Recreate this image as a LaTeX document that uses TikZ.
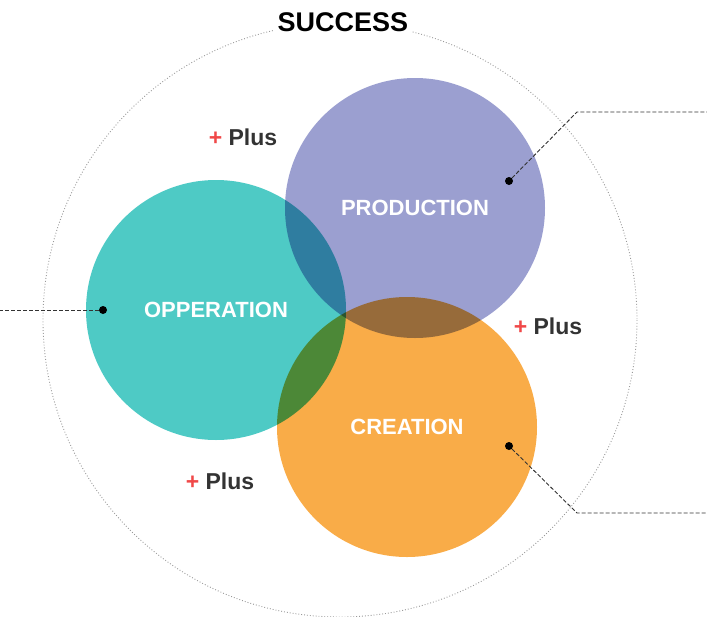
\documentclass[tikz,border=0pt]{standalone}
\usepackage{fontspec}
\setmainfont{Liberation Sans}
\usetikzlibrary{positioning}

\definecolor{opercol}{HTML}{4ECAC5}
\definecolor{prodcol}{HTML}{9B9FD0}
\definecolor{creacol}{HTML}{F9AC48}
\definecolor{plusred}{HTML}{F04848}
\definecolor{plusgray}{HTML}{333333}

\tikzset{
  bubble/.style={circle,minimum size=260pt,inner sep=0pt},
  bubbletext/.style={text=white,font=\fontsize{22}{22}\selectfont\bfseries},
  plustext/.style={text=plusgray,font=\fontsize{23}{23}\selectfont\bfseries},
  pin/.style={circle,fill=black,minimum size=8pt,inner sep=0pt},
  leader/.style={draw=black!80,dash pattern=on 4pt off 2pt,line width=0.9pt}
}

\begin{document}
\begin{tikzpicture}[x=1pt,y=-1pt]
	\useasboundingbox (0,0) rectangle (707,616);

	% outer ring
	\draw[black!40,dotted,line width=0.9pt] (340,320) circle (297);
	\node[fill=white,font=\fontsize{27}{27}\selectfont\bfseries] (success) at (343,22) {SUCCESS};

	\begin{scope}[blend group=multiply]
		\node[bubble,fill=opercol] (oper) at (216,310) {};
		\node[bubble,fill=prodcol] (prod) at (415,208) {};
		\node[bubble,fill=creacol] (crea) at (407,427) {};
	\end{scope}

	\begin{scope}[every node/.style={bubbletext}]
		\node (operlabel) at (oper.center) {OPPERATION};
		\node (prodlabel) at (prod.center) {PRODUCTION};
		\node (crealabel) at (crea.center) {CREATION};
	\end{scope}

	\begin{scope}[every node/.style={plustext}]
		\node (plusa) at (243,137) {\textcolor{plusred}{+} Plus};
		\node (plusb) at (548,326) {\textcolor{plusred}{+} Plus};
		\node (plusc) at (220,481) {\textcolor{plusred}{+} Plus};
	\end{scope}

	% leaders
	\node[pin] (operpin) at (103,310) {};
	\node[pin] (prodpin) at (509,181) {};
	\node[pin] (creapin) at (509,446) {};
	\coordinate (operend) at (0,310);
	\coordinate (prodbend) at (577,112);
	\coordinate (prodend) at (707,112);
	\coordinate (creabend) at (577,513);
	\coordinate (creaend) at (707,513);

	\draw[leader] (operpin) -- (operend);
	\draw[leader] (prodpin) -- (prodbend) -- (prodend);
	\draw[leader] (creapin) -- (creabend) -- (creaend);
\end{tikzpicture}
\end{document}
